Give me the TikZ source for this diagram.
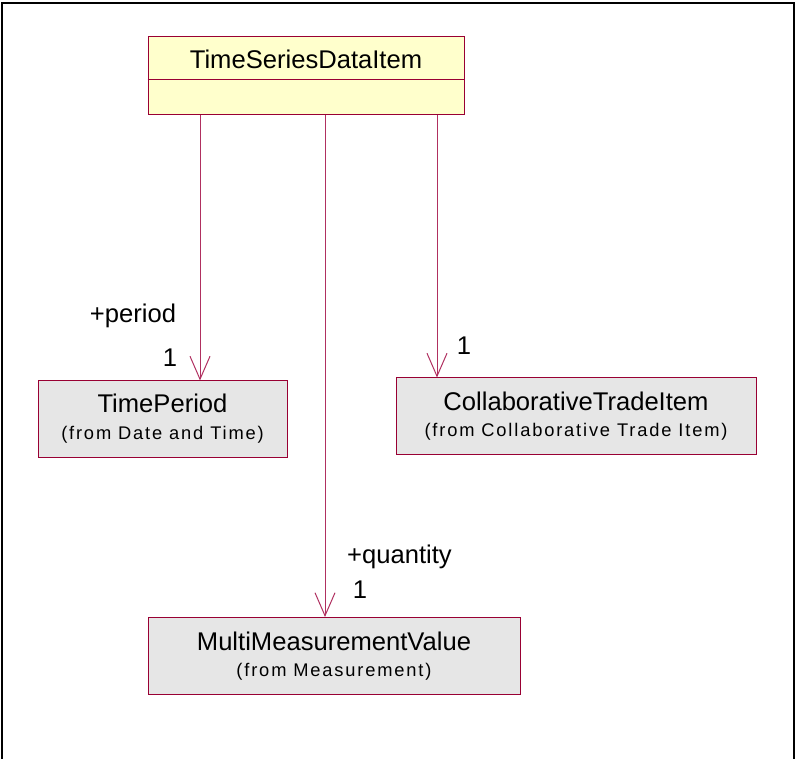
\documentclass[tikz,border=0pt]{standalone}
\usepackage{fontspec}
\setmainfont{Liberation Sans}
\newfontfamily\subfont[LetterSpace=10]{Liberation Sans}
\usetikzlibrary{arrows.meta}
\definecolor{umlborder}{HTML}{990033}
\definecolor{umlline}{HTML}{B03060}
\definecolor{umlyellow}{HTML}{FFFFCC}
\definecolor{umlgray}{HTML}{E6E6E6}
\tikzset{
  classbox/.style={draw=umlborder, line width=1pt, fill=umlgray, inner sep=0pt},
  mainbox/.style={draw=umlborder, line width=1pt, fill=umlyellow, inner sep=0pt},
  titletext/.style={anchor=base, inner sep=0pt, font=\fontsize{25.6}{30}\selectfont},
  subtext/.style={anchor=base, inner sep=0pt, font=\subfont\fontsize{18.3}{22}\selectfont},
  roletext/.style={anchor=base, inner sep=0pt, font=\fontsize{25.6}{30}\selectfont},
  assoc/.style={draw=umlline, line width=1pt, -{Straight Barb[length=23pt,width=20pt,line width=1pt]}},
}
\begin{document}
\begin{tikzpicture}[x=1pt,y=-1pt]
\useasboundingbox (0,0) rectangle (796,759);
% frame
\draw[line width=2pt, black] (2,759) -- (2,3) -- (794,3) -- (794,759);
% classes
\node[mainbox, minimum width=316pt, minimum height=78pt] (tsdi) at (306,76) {};
\draw[umlborder, line width=1pt] (tsdi.west |- 0,80) -- (tsdi.east |- 0,80);
\node[titletext] (tsdit) at (306,69) {TimeSeriesDataItem};

\node[classbox, minimum width=249pt, minimum height=77pt] (tp) at (162.5,419.5) {};
\node[titletext] (tpt) at (162.5,413) {TimePeriod};
\node[subtext] (tps) at (162.5,440) {(from Date and Time)};

\node[classbox, minimum width=360pt, minimum height=77pt] (cti) at (576,416.5) {};
\node[titletext] (ctit) at (576,411) {CollaborativeTradeItem};
\node[subtext] (ctis) at (576,437) {(from Collaborative Trade Item)};

\node[classbox, minimum width=372pt, minimum height=77pt] (mmv) at (334,656) {};
\node[titletext] (mmvt) at (334,650) {MultiMeasurementValue};
\node[subtext] (mmvs) at (334,676) {(from Measurement)};

% associations
\draw[assoc] (tsdi.south -| 200,0) -- (tp.north -| 200,0);
\draw[assoc] (tsdi.south -| 325,0) -- (mmv.north -| 325,0);
\draw[assoc] (tsdi.south -| 437,0) -- (cti.north -| 437,0);

% role labels
\node[roletext] (lp) at (133,323) {+period};
\node[roletext] (lp1) at (170,367) {1};
\node[roletext] (lc1) at (464,355) {1};
\node[roletext] (lq) at (399.5,563) {+quantity};
\node[roletext] (lq1) at (360,598) {1};
\end{tikzpicture}
\end{document}
